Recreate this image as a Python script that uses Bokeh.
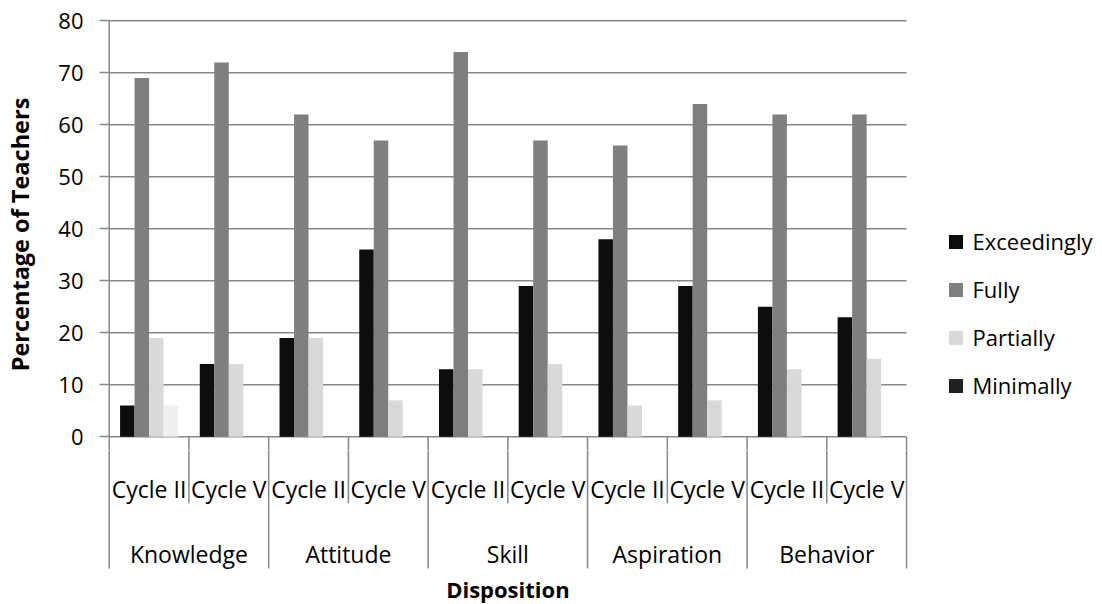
from bokeh.plotting import figure
from bokeh.layouts import column
from bokeh.models import ColumnDataSource, Range1d, FixedTicker, Legend, LegendItem
from bokeh.core.properties import value
from bokeh.embed import file_html
from bokeh.resources import INLINE

# ---- data ----
dispositions = ["Knowledge", "Attitude", "Skill", "Aspiration", "Behavior"]
cycles = ["Cycle II", "Cycle V"]
series = ["Exceedingly", "Fully", "Partially", "Minimally"]
exceedingly = [6, 14, 19, 36, 13, 29, 38, 29, 25, 23]
fully = [69, 72, 62, 57, 74, 57, 56, 64, 62, 62]
partially = [19, 14, 19, 7, 13, 14, 6, 7, 13, 15]
minimally = [6, 0, 0, 0, 0, 0, 0, 0, 0, 0]
y_ticks = [0, 10, 20, 30, 40, 50, 60, 70, 80]

# ---- style ----
FONT = "Open Sans"
GRID = "#878787"
bar_colors = ["#0d0d0d", "#7f7f7f", "#d9d9d9", "#efefef"]
legend_colors = ["#0d0d0d", "#7f7f7f", "#d9d9d9", "#231f20"]
bar_w = 0.182
offsets = [0.5 - 1.5 * bar_w, 0.5 - 0.5 * bar_w, 0.5 + 0.5 * bar_w, 0.5 + 1.5 * bar_w]
CYCLE_SEP = -12.77
DISP_SEP = -25.33

n_slots = len(dispositions) * len(cycles)
x_range = Range1d(-0.034, 12.458)

# ================= main chart =================
p = figure(width=1102, height=450, output_backend="svg", toolbar_location=None,
           x_range=x_range, y_range=Range1d(-2.64, 80.44),
           x_axis_location=None,
           min_border_left=106, min_border_right=0, min_border_top=18, min_border_bottom=0)
p.outline_line_color = None
p.background_fill_color = "white"
p.border_fill_color = "white"

ax = p.yaxis[0]
ax.ticker = FixedTicker(ticks=y_ticks)
ax.axis_line_color = None
ax.major_tick_out = 7
ax.major_tick_in = 3
ax.major_tick_line_color = GRID
ax.major_tick_line_width = 1.5
ax.minor_tick_line_color = None
ax.major_label_standoff = 16
ax.major_label_text_font = FONT
ax.major_label_text_font_size = "22px"
ax.major_label_text_color = "#000000"
ax.axis_label = "Percentage of Teachers"
ax.axis_label_text_font = FONT
ax.axis_label_text_font_size = "23.5px"
ax.axis_label_text_font_style = "bold"
ax.axis_label_text_color = "#000000"
ax.axis_label_standoff = 19
p.xgrid.visible = False
p.ygrid.visible = False

# horizontal gridlines over the plot area
p.segment(x0=[0] * len(y_ticks), x1=[n_slots] * len(y_ticks), y0=y_ticks, y1=y_ticks,
          line_color=GRID, line_width=1.5)

# bars
for vals, off, col in zip([exceedingly, fully, partially, minimally], offsets, bar_colors):
    src = ColumnDataSource(dict(x=[i + off for i in range(n_slots)], top=vals))
    p.vbar(x="x", top="top", bottom=0, width=bar_w, source=src,
           fill_color=col, line_color=None)

disp_x = [2 * k for k in range(len(dispositions) + 1)]
disp_top = [y_ticks[-1]] + [0] * len(dispositions)
cyc_x = [2 * k + 1 for k in range(len(dispositions))]


def separators(fig):
    fig.segment(x0=disp_x, x1=disp_x, y0=disp_top, y1=[DISP_SEP] * len(disp_x),
                line_color=GRID, line_width=1.5)
    fig.segment(x0=cyc_x, x1=cyc_x, y0=[0] * len(cyc_x), y1=[CYCLE_SEP] * len(cyc_x),
                line_color=GRID, line_width=1.5)


separators(p)

# legend (square markers)
nan = float("nan")
items = []
for name, col in zip(series, legend_colors):
    r = p.scatter(x=[nan], y=[nan], marker="square", fill_color=col, line_color=None)
    items.append(LegendItem(label=name, renderers=[r]))
legend = Legend(items=items, location=(831.5, 47.5), orientation="vertical",
                glyph_width=35, glyph_height=35, label_height=35, spacing=13,
                padding=0, margin=0, border_line_color=None, background_fill_alpha=0,
                label_standoff=0, label_text_font=FONT, label_text_font_size="22px",
                label_text_color="#000000")
p.add_layout(legend)

# ================= category axis strip =================
q = figure(width=1102, height=154, output_backend="svg", toolbar_location=None,
           x_range=x_range, y_range=Range1d(-32.26, -2.64),
           x_axis_location=None, y_axis_location=None,
           min_border_left=106, min_border_right=0, min_border_top=0, min_border_bottom=0)
q.outline_line_color = None
q.background_fill_color = "white"
q.border_fill_color = "white"
q.grid.visible = False

separators(q)

q.text(x=[i + 0.5 for i in range(n_slots)], y=[-10.0] * n_slots,
       text=[cycles[i % 2] for i in range(n_slots)],
       text_font=value(FONT), text_font_size="23px", text_align="center",
       text_baseline="alphabetic", text_color="#000000")
q.text(x=[2 * k + 1 for k in range(len(dispositions))], y=[-22.5] * len(dispositions),
       text=dispositions,
       text_font=value(FONT), text_font_size="23px", text_align="center",
       text_baseline="alphabetic", text_color="#000000")
q.text(x=[n_slots / 2], y=[-29.2], text=["Disposition"],
       text_font=value(FONT), text_font_size="22px", text_font_style="bold",
       text_align="center", text_baseline="alphabetic", text_color="#000000")

layout = column(p, q, spacing=0)
open("out.html", "w").write(file_html(layout, INLINE))
